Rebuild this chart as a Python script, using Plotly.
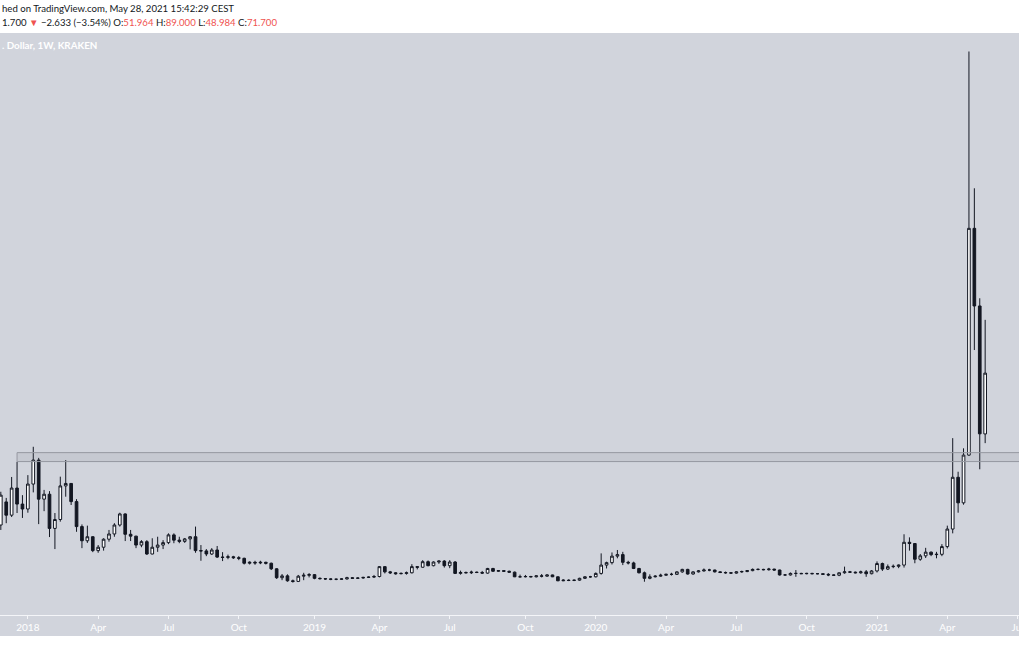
import pandas as pd
import plotly.graph_objects as go

# ---------------- data (weekly bars, KRAKEN, USD) ----------------
first_week = "2017-11-27"
n_weeks = 183
weeks = pd.date_range(first_week, periods=n_weeks, freq="W-MON")

opens = [
    22.4, 29.9, 25.6, 34.4, 29.2, 27.6, 35.7, 43.5, 30.8, 32.4,
    21.3, 24.2, 35.1, 35.9, 30.0, 21.9, 17.3, 18.6, 14.1, 15.2,
    17.8, 19.5, 22.4, 26.0, 19.4, 18.8, 15.9, 17.0, 13.0, 15.2,
    15.9, 16.7, 19.2, 17.5, 17.1, 17.9, 18.6, 14.1, 14.0, 13.0,
    14.3, 12.0, 11.9, 12.1, 11.8, 11.6, 10.0, 10.3, 10.1, 10.3,
    10.0, 8.2, 5.3, 5.9, 4.3, 4.1, 5.8, 6.1, 6.3, 5.1,
    5.0, 4.9, 4.8, 4.8, 4.9, 5.3, 5.1, 5.2, 5.4, 5.5,
    5.7, 8.9, 7.2, 6.9, 6.6, 6.7, 6.9, 8.9, 8.7, 10.5,
    9.2, 10.4, 10.7, 9.2, 10.4, 6.7, 7.0, 6.9, 7.1, 7.0,
    6.8, 8.3, 7.4, 7.6, 7.4, 7.1, 5.6, 5.6, 5.7, 5.6,
    5.9, 5.8, 6.2, 5.6, 4.3, 4.5, 4.4, 4.5, 5.1, 5.6,
    5.6, 6.7, 9.4, 10.2, 12.3, 12.8, 10.3, 10.1, 8.3, 6.9,
    5.1, 5.6, 5.8, 6.1, 6.4, 6.4, 7.2, 8.0, 6.5, 7.2,
    7.5, 7.8, 7.8, 7.2, 7.0, 6.9, 6.8, 7.2, 7.3, 7.6,
    8.0, 8.0, 7.9, 8.1, 7.8, 6.2, 6.2, 6.7, 6.7, 6.6,
    6.7, 6.6, 6.6, 6.4, 6.2, 6.1, 6.9, 7.2, 7.1, 6.9,
    7.2, 6.6, 7.5, 9.9, 8.1, 8.9, 9.0, 9.4, 16.8, 16.4,
    11.3, 12.4, 13.6, 12.8, 12.9, 15.4, 21.1, 37.9, 29.6, 45.1,
    118.7, 93.5, 51.964,
]
highs = [
    33.2, 31.2, 38.0, 42.9, 32.1, 38.6, 47.8, 44.2, 33.8, 33.4,
    26.3, 38.1, 43.5, 36.0, 30.8, 22.6, 22.2, 18.8, 15.9, 18.1,
    20.8, 23.0, 26.4, 26.2, 20.8, 18.9, 17.5, 17.5, 18.1, 18.6,
    17.5, 19.7, 19.7, 18.6, 18.2, 18.8, 21.9, 15.9, 14.6, 14.9,
    15.6, 13.6, 12.8, 12.4, 12.3, 11.8, 10.6, 10.8, 10.8, 10.5,
    10.2, 8.4, 6.5, 6.4, 4.7, 6.2, 6.9, 6.8, 6.5, 5.4,
    5.2, 5.1, 5.0, 5.1, 5.6, 5.5, 5.4, 5.6, 5.7, 6.2,
    9.1, 9.0, 7.5, 7.1, 7.0, 7.3, 9.7, 9.1, 11.0, 10.9,
    10.6, 10.9, 11.0, 11.0, 10.7, 7.6, 7.3, 7.6, 7.3, 7.5,
    8.5, 8.5, 7.8, 7.7, 7.6, 7.3, 6.3, 6.2, 5.9, 6.0,
    6.5, 6.4, 6.3, 5.7, 4.8, 4.8, 4.7, 5.3, 5.8, 5.9,
    7.0, 13.2, 10.5, 13.5, 14.3, 13.7, 10.8, 10.5, 8.5, 7.3,
    6.4, 6.1, 6.6, 6.6, 6.9, 7.4, 8.2, 8.2, 7.4, 7.8,
    8.3, 8.2, 7.9, 7.4, 7.3, 7.1, 7.4, 7.6, 7.8, 8.3,
    8.3, 8.2, 8.5, 8.2, 7.9, 6.5, 7.0, 7.8, 6.9, 6.9,
    6.9, 6.8, 6.7, 6.8, 6.4, 7.0, 8.9, 7.5, 7.3, 7.6,
    7.8, 7.8, 10.6, 10.2, 9.6, 9.6, 9.6, 19.4, 18.4, 16.5,
    13.0, 15.0, 13.8, 13.7, 16.2, 22.2, 50.6, 39.7, 47.3, 176.1,
    131.7, 96.0, 89.000,
]
lows = [
    20.8, 23.0, 25.0, 26.3, 24.7, 26.4, 33.0, 22.7, 26.9, 18.5,
    14.6, 23.5, 31.6, 28.9, 20.2, 14.9, 16.6, 13.6, 13.4, 14.1,
    17.0, 18.6, 21.9, 17.2, 17.2, 14.9, 15.2, 12.7, 12.9, 13.7,
    14.6, 16.2, 16.5, 16.5, 16.6, 14.5, 13.4, 10.8, 12.3, 12.7,
    11.7, 10.7, 11.3, 11.4, 11.0, 9.6, 9.6, 9.5, 9.7, 9.6,
    7.8, 4.9, 4.5, 4.0, 3.7, 3.9, 4.5, 5.4, 4.8, 4.7,
    4.6, 4.5, 4.5, 4.6, 4.7, 4.9, 4.9, 5.0, 5.2, 5.2,
    5.4, 6.7, 6.5, 6.3, 6.4, 6.3, 6.7, 8.0, 8.6, 9.0,
    9.0, 9.8, 8.6, 8.4, 6.5, 6.3, 6.7, 6.5, 6.8, 6.5,
    6.6, 7.2, 7.2, 7.2, 7.0, 5.5, 5.4, 5.4, 5.4, 5.4,
    5.4, 5.6, 5.5, 4.2, 4.2, 4.2, 4.2, 4.3, 4.9, 5.3,
    5.4, 6.3, 8.3, 9.6, 11.6, 9.4, 9.6, 8.1, 6.7, 4.0,
    4.8, 5.4, 5.6, 5.9, 6.0, 6.2, 6.9, 6.3, 6.3, 7.0,
    7.3, 7.4, 7.0, 6.8, 6.6, 6.6, 6.6, 6.9, 7.1, 7.4,
    7.7, 7.7, 7.6, 7.6, 6.0, 6.0, 6.0, 5.6, 6.5, 6.4,
    6.4, 6.4, 6.3, 5.8, 5.9, 5.8, 6.6, 6.9, 6.7, 6.6,
    5.6, 6.4, 7.0, 7.5, 7.8, 8.4, 8.4, 8.6, 14.1, 10.0,
    10.8, 11.7, 12.3, 11.6, 12.3, 14.8, 19.7, 26.4, 29.0, 44.8,
    79.2, 40.5, 48.984,
]
closes = [
    32.1, 25.6, 34.4, 29.2, 27.6, 35.7, 43.5, 30.8, 32.4, 21.3,
    24.2, 35.1, 35.9, 30.0, 21.9, 17.3, 18.6, 14.1, 15.2, 17.8,
    19.5, 22.4, 26.0, 19.4, 18.8, 15.9, 17.0, 13.0, 15.2, 15.9,
    16.7, 19.2, 17.5, 17.1, 17.9, 18.6, 14.1, 14.0, 13.0, 14.3,
    12.0, 11.9, 12.1, 11.8, 11.6, 10.0, 10.3, 10.1, 10.3, 10.0,
    8.2, 5.3, 5.9, 4.3, 4.1, 5.8, 6.1, 6.3, 5.1, 5.0,
    4.9, 4.8, 4.8, 4.9, 5.3, 5.1, 5.2, 5.4, 5.5, 5.7,
    8.9, 7.2, 6.9, 6.6, 6.7, 6.9, 8.9, 8.7, 10.5, 9.2,
    10.4, 10.7, 9.2, 10.4, 6.7, 7.0, 6.9, 7.1, 7.0, 6.8,
    8.3, 7.4, 7.6, 7.4, 7.1, 5.6, 5.6, 5.7, 5.6, 5.9,
    5.8, 6.2, 5.6, 4.3, 4.5, 4.4, 4.5, 5.1, 5.6, 5.6,
    6.7, 9.4, 10.2, 12.3, 12.8, 10.3, 10.1, 8.3, 6.9, 5.1,
    5.6, 5.8, 6.1, 6.4, 6.4, 7.2, 8.0, 6.5, 7.2, 7.5,
    7.8, 7.8, 7.2, 7.0, 6.9, 6.8, 7.2, 7.3, 7.6, 8.0,
    8.0, 7.9, 8.1, 7.8, 6.2, 6.2, 6.7, 6.7, 6.6, 6.7,
    6.6, 6.6, 6.4, 6.2, 6.1, 6.9, 7.2, 7.1, 6.9, 7.2,
    6.6, 7.5, 9.9, 8.1, 8.9, 9.0, 9.4, 16.8, 16.4, 11.3,
    12.4, 13.6, 12.8, 12.9, 15.4, 21.1, 37.9, 29.6, 45.1, 118.7,
    93.5, 52.0, 71.700,
]

# user-drawn resistance zone
zone_start = "2017-12-18"
zone_bottom = 43.0
zone_top = 45.9

# header numbers
last_price = 71.700
change_abs = -2.633
change_pct = -3.54

tick_vals = ["2018-01-01", "2018-04-02", "2018-07-02", "2018-10-01",
             "2019-01-07", "2019-04-01", "2019-07-01", "2019-10-07",
             "2020-01-06", "2020-04-06", "2020-07-06", "2020-10-05",
             "2021-01-04", "2021-04-05", "2021-07-05"]
tick_text = ["2018", "Apr", "Jul", "Oct", "2019", "Apr", "Jul", "Oct",
             "2020", "Apr", "Jul", "Oct", "2021", "Apr", "Jul"]

# ---------------- styling ----------------
W, H = 1024, 665
TOP, PLOT_BOTTOM, PANEL_BOTTOM = 33, 615, 636
PLOT_H = PLOT_BOTTOM - TOP
BG = "#D1D4DC"
INK = "#131722"
RED = "#EF5350"
FONT = "Lato"


def py(ypix):
    return (PLOT_BOTTOM - ypix) / PLOT_H


fig = go.Figure()
fig.add_trace(go.Candlestick(
    x=weeks, open=opens, high=highs, low=lows, close=closes,
    increasing=dict(fillcolor="#FFFFFF", line=dict(color=INK, width=1)),
    decreasing=dict(fillcolor=INK, line=dict(color=INK, width=1)),
    whiskerwidth=0, hoverinfo="skip", showlegend=False,
))

# axis panel background below the plot
fig.add_shape(type="rect", xref="paper", yref="paper", x0=0, x1=1,
              y0=py(PANEL_BOTTOM), y1=0, fillcolor=BG, line_width=0,
              layer="below")
# resistance zone
fig.add_shape(type="rect", xref="x", yref="y", x0=zone_start, x1="2021-08-30",
              y0=zone_bottom, y1=zone_top,
              fillcolor="rgba(120,123,134,0.12)",
              line=dict(color="#9598A1", width=1), layer="above")

line1 = "hed on TradingView.com, May 28, 2021 15:42:29 CEST"
val = lambda v: f"<span style='color:{RED}'>{v:.3f}</span>"
line2 = (f"{last_price:.3f}"[1:] + f" <span style='color:{RED}'>▼</span> "
         f"−{abs(change_abs):.3f} (−{abs(change_pct):.2f}%) "
         f"O:{val(opens[-1])} H:{val(highs[-1])} L:{val(lows[-1])} C:{val(closes[-1])}")

fig.add_annotation(text=line1, x=0, y=py(9), xref="paper", yref="paper",
                   xanchor="left", yanchor="middle", showarrow=False,
                   font=dict(family=FONT, size=9.6, color=INK))
fig.add_annotation(text=line2, x=0, y=py(22), xref="paper", yref="paper",
                   xanchor="left", yanchor="middle", showarrow=False,
                   font=dict(family=FONT, size=9.6, color=INK))
fig.add_annotation(text="<b>. Dollar, 1W, KRAKEN</b>", x=0, y=py(45),
                   xref="paper", yref="paper", xanchor="left",
                   yanchor="middle", showarrow=False,
                   font=dict(family=FONT, size=9.8, color="#FFFFFF"))

fig.update_layout(
    width=W, height=H,
    margin=dict(l=0, r=0, t=TOP, b=H - PLOT_BOTTOM, pad=0),
    paper_bgcolor="#FFFFFF", plot_bgcolor=BG,
    boxgap=0.3,
    showlegend=False,
    xaxis=dict(
        type="date",
        range=["2017-11-25 22:30", "2021-07-06 19:00"],
        rangeslider=dict(visible=False),
        showgrid=False, zeroline=False,
        showline=True, linecolor="#F4F5F8", linewidth=1,
        ticks="outside", ticklen=3, tickcolor="#F4F5F8", tickwidth=1,
        tickvals=tick_vals, ticktext=tick_text,
        tickfont=dict(family=FONT, size=10, color="#FFFFFF"),
        ticklabeloverflow="allow",
        fixedrange=True,
    ),
    yaxis=dict(range=[-6.8, 182.1], visible=False, fixedrange=True),
)

fig.write_html("out.html", config={"displayModeBar": False},
               post_script="document.body.style.margin='0';document.body.style.overflow='hidden';")
